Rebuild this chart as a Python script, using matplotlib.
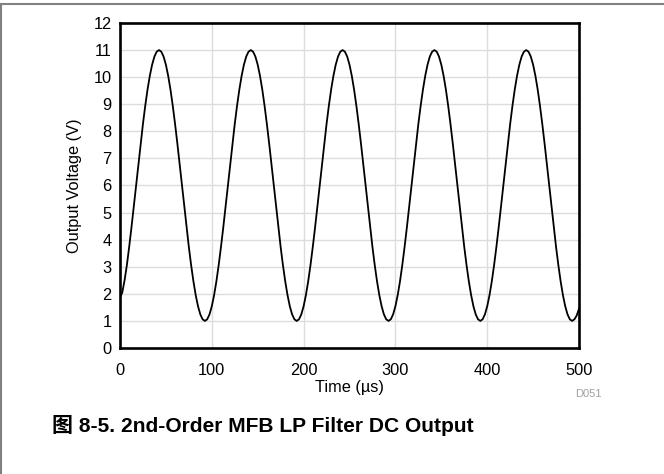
import numpy as np
import matplotlib
matplotlib.use("Agg")
import matplotlib.pyplot as plt
from matplotlib.lines import Line2D

plt.rcParams["font.family"] = ["Liberation Sans", "Noto Sans CJK SC", "DejaVu Sans"]

# time axis in microseconds, one reading every 2.5 us
time_us = np.arange(0, 500.1, 2.5)

# output voltage (V), one row per 100 us
vout_v = [
    1.85, 2.05, 2.50, 3.06, 3.73, 4.45, 5.22, 6.00, 6.78, 7.55,
    8.27, 8.94, 9.54, 10.05, 10.46, 10.76, 10.94, 11.00, 10.94, 10.76,
    10.46, 10.05, 9.54, 8.94, 8.27, 7.55, 6.78, 6.00, 5.22, 4.45,
    3.73, 3.06, 2.46, 1.95, 1.54, 1.24, 1.06, 1.00, 1.06, 1.24,
    1.54, 1.95, 2.46, 3.06, 3.73, 4.45, 5.22, 6.00, 6.78, 7.55,
    8.27, 8.94, 9.54, 10.05, 10.46, 10.76, 10.94, 11.00, 10.94, 10.76,
    10.46, 10.05, 9.54, 8.94, 8.27, 7.55, 6.78, 6.00, 5.22, 4.45,
    3.73, 3.06, 2.46, 1.95, 1.54, 1.24, 1.06, 1.00, 1.06, 1.24,
    1.54, 1.95, 2.46, 3.06, 3.73, 4.45, 5.22, 6.00, 6.78, 7.55,
    8.27, 8.94, 9.54, 10.05, 10.46, 10.76, 10.94, 11.00, 10.94, 10.76,
    10.46, 10.05, 9.54, 8.94, 8.27, 7.55, 6.78, 6.00, 5.22, 4.45,
    3.73, 3.06, 2.46, 1.95, 1.54, 1.24, 1.06, 1.00, 1.06, 1.24,
    1.54, 1.95, 2.46, 3.06, 3.73, 4.45, 5.22, 6.00, 6.78, 7.55,
    8.27, 8.94, 9.54, 10.05, 10.46, 10.76, 10.94, 11.00, 10.94, 10.76,
    10.46, 10.05, 9.54, 8.94, 8.27, 7.55, 6.78, 6.00, 5.22, 4.45,
    3.73, 3.06, 2.46, 1.95, 1.54, 1.24, 1.06, 1.00, 1.06, 1.24,
    1.54, 1.95, 2.46, 3.06, 3.73, 4.45, 5.22, 6.00, 6.78, 7.55,
    8.27, 8.94, 9.54, 10.05, 10.46, 10.76, 10.94, 11.00, 10.94, 10.76,
    10.46, 10.05, 9.54, 8.94, 8.27, 7.55, 6.78, 6.00, 5.22, 4.45,
    3.73, 3.06, 2.46, 1.95, 1.54, 1.24, 1.06, 1.00, 1.06, 1.20,
    1.45,
]

x_ticks = [0, 100, 200, 300, 400, 500]
y_ticks = list(range(0, 13))

fig = plt.figure(figsize=(6.64, 4.74), dpi=100)
ax = fig.add_axes([0.1807, 0.2658, 0.6913, 0.6857])

ax.plot(time_us, vout_v, color="black", linewidth=1.3, zorder=3)

ax.set_xlim(0, 500)
ax.set_ylim(0, 12)
ax.set_xticks(x_ticks)
ax.set_yticks(y_ticks)
ax.grid(True, color="#dcdcdc", linewidth=1.0)
ax.set_axisbelow(True)
ax.tick_params(axis="y", length=0, labelsize=11.8, pad=6)
ax.tick_params(axis="x", length=0, labelsize=11.8, pad=11)
for s in ax.spines.values():
    s.set_linewidth(1.9)
    s.set_color("black")

ax.set_xlabel("Time (µs)", fontsize=11.8, labelpad=1)
ax.set_ylabel("Output Voltage (V)", fontsize=11.8, labelpad=8.5)

fig.text(0.866, 0.168, "D051", fontsize=8, color="#a0a0a0", ha="left", va="center")
fig.text(0.396, 0.103, "图 8-5. 2nd-Order MFB LP Filter DC Output",
         fontsize=15.1, fontweight="bold", ha="center", va="center")

# grey frame (top and left edges visible)
fig.add_artist(Line2D([0.0, 1.0], [0.991, 0.991], transform=fig.transFigure,
                      color="#808080", linewidth=1.5))
fig.add_artist(Line2D([0.002, 0.002], [0.0, 0.991], transform=fig.transFigure,
                      color="#808080", linewidth=1.5))

fig.savefig("out.png", dpi=100)
